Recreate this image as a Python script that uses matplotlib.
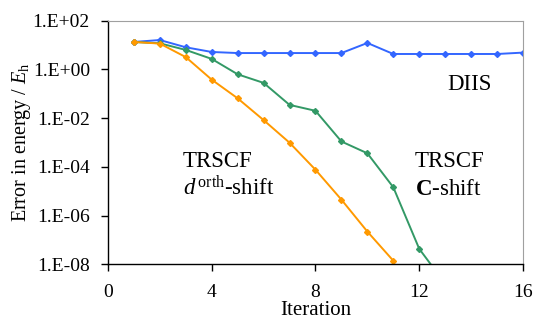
import matplotlib.pyplot as plt

plt.rcParams['font.family'] = 'Liberation Serif'
plt.rcParams['mathtext.fontset'] = 'custom'
plt.rcParams['mathtext.rm'] = 'Liberation Serif'
plt.rcParams['mathtext.it'] = 'Liberation Serif:italic'
plt.rcParams['mathtext.bf'] = 'Liberation Serif:bold'

# energy error per iteration for each SCF scheme
iter_diis = [1, 2, 3, 4, 5, 6, 7, 8, 9, 10, 11, 12, 13, 14, 15, 16]
err_diis = [13.4, 16.1, 8.1, 5.2, 4.7, 4.7, 4.7, 4.7, 4.7, 12.2, 4.3, 4.3, 4.3, 4.3, 4.3, 4.9]

iter_cshift = [1, 2, 3, 4, 5, 6, 7, 8, 9, 10, 11, 12, 13]
err_cshift = [13.4, 11.8, 6.3, 2.7, 0.63, 0.28, 0.035, 0.020, 1.1e-3, 3.6e-4, 1.45e-5, 4.3e-8, 1.6e-9]

iter_dorth = [1, 2, 3, 4, 5, 6, 7, 8, 9, 10, 11]
err_dorth = [13.4, 11.5, 3.2, 0.38, 0.065, 8.3e-3, 9.8e-4, 7.6e-5, 4.5e-6, 2.2e-7, 1.4e-8]

yticks = [1e2, 1e0, 1e-2, 1e-4, 1e-6, 1e-8]
ytick_labels = ['1.E+02', '1.E+00', '1.E-02', '1.E-04', '1.E-06', '1.E-08']
xticks = [0, 4, 8, 12, 16]

fig = plt.figure(figsize=(5.34, 3.24), dpi=100)
ax = fig.add_axes([0.2022, 0.1843, 0.7772, 0.7518])

ax.plot(iter_diis, err_diis, color='#3366FF', marker='D', markersize=3, lw=1.4)
ax.plot(iter_cshift, err_cshift, color='#339966', marker='D', markersize=3, lw=1.4)
ax.plot(iter_dorth, err_dorth, color='#FF9900', marker='D', markersize=3, lw=1.4)

ax.set_yscale('log')
ax.set_ylim(1e-8, 1e2)
ax.set_xlim(0, 16)
ax.set_yticks(yticks)
ax.set_yticklabels(ytick_labels)
ax.minorticks_off()
ax.set_xticks(xticks)
ax.tick_params(labelsize=14, direction='out', length=5, width=1, color='black')
ax.tick_params(axis='y', pad=8)
ax.tick_params(axis='x', pad=9)

ax.spines['top'].set_color('#a0a0a0')
ax.spines['right'].set_color('#a0a0a0')
ax.spines['left'].set_linewidth(1)
ax.spines['bottom'].set_linewidth(1)

ax.set_xlabel('Iteration', fontsize=15, labelpad=0.5)
ax.set_ylabel('Error in energy / $\\mathit{E}_{\\mathrm{h}}$', fontsize=14.5, labelpad=0)

ax.text(13.1, 0.14, 'DIIS', fontsize=16.5, ha='left', va='baseline')
ax.text(2.89, 1e-4, 'TRSCF', fontsize=16.5, ha='left', va='baseline')
ax.text(2.89, 7e-6, '$\\mathit{d}^{\\,\\mathrm{orth}}$-shift', fontsize=16.5, ha='left', va='baseline')
ax.text(11.83, 1e-4, 'TRSCF', fontsize=16.5, ha='left', va='baseline')
ax.text(11.83, 7e-6, '$\\mathbf{C}$-shift', fontsize=16.5, ha='left', va='baseline')

fig.savefig('out.png', dpi=100)
